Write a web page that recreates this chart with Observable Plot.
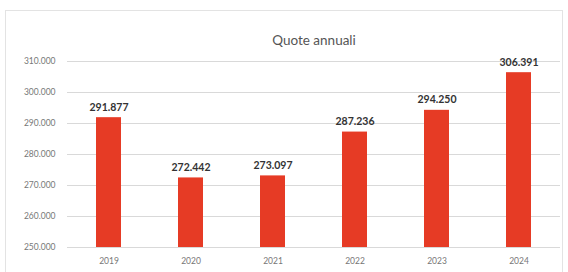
<!DOCTYPE html>
<html><head><meta charset="utf-8">
<script src="https://cdn.jsdelivr.net/npm/d3@7"></script>
<script src="https://cdn.jsdelivr.net/npm/@observablehq/plot@0.6"></script>
<style>body{margin:0;background:#fff;font-family:Lato,"Open Sans",sans-serif}</style>
</head><body><div id="chart"></div>
<script>
const years = ["2019","2020","2021","2022","2023","2024"];
const values = [291877, 272442, 273097, 287236, 294250, 306391];
const yTicks = [250000, 260000, 270000, 280000, 290000, 300000, 310000];
const title = "Quote annuali";

const data = years.map((y, i) => ({year: y, value: values[i]}));
const itFmt = d => d3.format(",")(d).replace(/,/g, ".");

const plot = Plot.plot({
  width: 568, height: 272,
  marginLeft: 67, marginRight: 8, marginTop: 61, marginBottom: 25,
  style: {fontFamily: "Lato, 'Open Sans', sans-serif", background: "transparent"},
  x: {domain: years, paddingInner: 0.7, paddingOuter: 0.35, label: null, tickSize: 0, tickPadding: 10},
  y: {domain: [250000, 310000], ticks: yTicks, tickFormat: itFmt, label: null, tickSize: 0, tickPadding: 12},
  marks: [
    Plot.gridY(yTicks, {stroke: "#d9d9d9", strokeOpacity: 1, strokeWidth: 1}),
    Plot.barY(data, {x: "year", y1: 250000, y2: "value", fill: "#e63b25"}),
    Plot.text(data, {x: "year", y: "value", text: d => itFmt(d.value), lineAnchor: "bottom", dy: -7, fontWeight: "bold", fontSize: 10.5, fill: "#333"}),
    Plot.text([title], {frameAnchor: "top", dy: -26, text: d => d, fontSize: 13.5, fill: "#555"})
  ]
});
const svg = d3.select(plot);
svg.select("[aria-label='y-axis tick label']").attr("fill", "#777").attr("font-size", 8.5);
svg.select("[aria-label='x-axis tick label']").attr("fill", "#777").attr("font-size", 8.5);
svg.insert("rect", ":first-child").attr("x", 5.5).attr("y", 10.5).attr("width", 557).attr("height", 270).attr("fill", "#fff").attr("stroke", "#e3e3e3");
document.getElementById("chart").appendChild(plot);
</script></body></html>
